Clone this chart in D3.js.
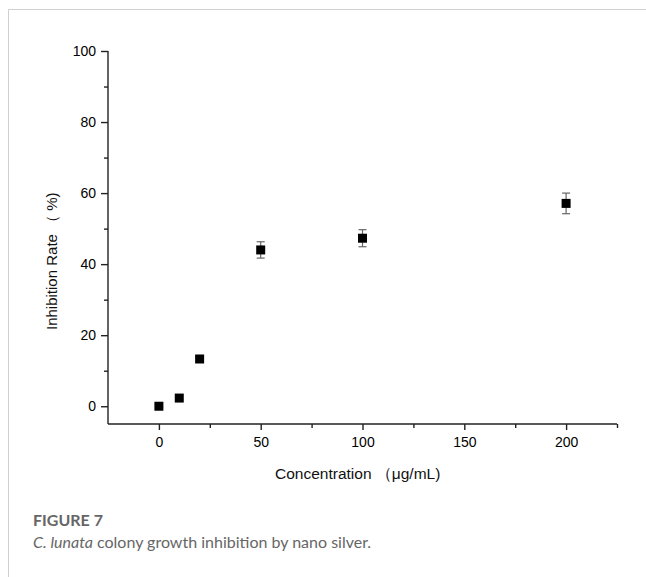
<!DOCTYPE html>
<html>
<head>
<meta charset="utf-8">
<script src="https://cdn.jsdelivr.net/npm/d3@7"></script>
<style>
  body { margin: 0; background: #fff; }
  svg text { font-family: "Liberation Sans", Arial, sans-serif; }
</style>
</head>
<body>
<div id="chart"></div>
<script>
// concentration (ug/mL), inhibition rate (%), error (+/-)
const concentrations = [0, 10, 20, 50, 100, 200];
const inhibition = [0, 2.3, 13.3, 44.0, 47.3, 57.1];
const errors = [0.5, 0.5, 0.6, 2.3, 2.4, 2.9];
const xTicks = [0, 50, 100, 150, 200];
const yTicks = [0, 20, 40, 60, 80, 100];

const W = 646, H = 577;
const svg = d3.select("#chart").append("svg")
    .attr("width", W).attr("height", H);

// frame lines of the figure panel
svg.append("line").attr("x1", 8.5).attr("x2", W).attr("y1", 9.5).attr("y2", 9.5)
    .attr("stroke", "#d0d0d0");
svg.append("line").attr("x1", 8.5).attr("x2", 8.5).attr("y1", 9.5).attr("y2", H)
    .attr("stroke", "#d0d0d0");

const x = d3.scaleLinear().domain([-25, 225]).range([108, 617]);
const y = d3.scaleLinear().domain([-5, 100]).range([424, 51]);

// y axis
const yAxis = svg.append("g").attr("transform", "translate(108,0)");
yAxis.call(d3.axisLeft(y).tickValues(yTicks).tickSize(7).tickPadding(5).tickSizeOuter(0));
yAxis.append("g").call(d3.axisLeft(y).tickValues([10, 30, 50, 70, 90]).tickSize(4).tickFormat(""))
    .select(".domain").remove();
yAxis.select(".domain").attr("d", "M0," + y(100) + "V" + y(-5));

// x axis
const xAxis = svg.append("g").attr("transform", "translate(0,424)");
xAxis.call(d3.axisBottom(x).tickValues(xTicks).tickSize(6).tickPadding(7).tickSizeOuter(0));
xAxis.append("g").call(d3.axisBottom(x).tickValues([25, 75, 125, 175, 225]).tickSize(4).tickFormat(""))
    .select(".domain").remove();
xAxis.select(".domain").attr("d", "M" + x(-25) + ",0H" + x(225));

svg.selectAll(".tick text").attr("font-size", 14).attr("fill", "#000");
svg.selectAll(".domain, .tick line").attr("stroke", "#222").attr("stroke-width", 1.4);

// axis titles
svg.append("text")
    .attr("transform", "translate(57,330) rotate(-90)")
    .attr("text-anchor", "start").attr("font-size", 15).attr("fill", "#111")
    .text("Inhibition Rate （ %)");
svg.append("text")
    .attr("x", 275).attr("y", 479)
    .attr("text-anchor", "start").attr("font-size", 15.5).attr("fill", "#111")
    .text("Concentration （μg/mL)");

// error bars
const pts = concentrations.map((c, i) => ({c: c, v: inhibition[i], e: errors[i]}));
const eb = svg.append("g").attr("stroke", "#666").attr("stroke-width", 1.2);
pts.forEach(d => {
    eb.append("line").attr("x1", x(d.c)).attr("x2", x(d.c))
        .attr("y1", y(d.v + d.e)).attr("y2", y(d.v - d.e));
    eb.append("line").attr("x1", x(d.c) - 4).attr("x2", x(d.c) + 4)
        .attr("y1", y(d.v + d.e)).attr("y2", y(d.v + d.e));
    eb.append("line").attr("x1", x(d.c) - 4).attr("x2", x(d.c) + 4)
        .attr("y1", y(d.v - d.e)).attr("y2", y(d.v - d.e));
});

// square markers
svg.selectAll("rect.pt").data(pts).enter().append("rect")
    .attr("class", "pt")
    .attr("x", d => x(d.c) - 4.5).attr("y", d => y(d.v) - 4.5)
    .attr("width", 9).attr("height", 9)
    .attr("fill", "#000");

// caption
svg.append("text").attr("x", 33).attr("y", 526)
    .style("font-family", "Lato, 'Open Sans', sans-serif")
    .attr("font-size", 16).attr("font-weight", "bold").attr("fill", "#666")
    .text("FIGURE 7");
const cap = svg.append("text").attr("x", 33).attr("y", 548)
    .style("font-family", "Lato, 'Open Sans', sans-serif")
    .attr("font-size", 16).attr("fill", "#666");
cap.append("tspan").attr("font-style", "italic").text("C. lunata");
cap.append("tspan").text(" colony growth inhibition by nano silver.");
</script>
</body>
</html>
